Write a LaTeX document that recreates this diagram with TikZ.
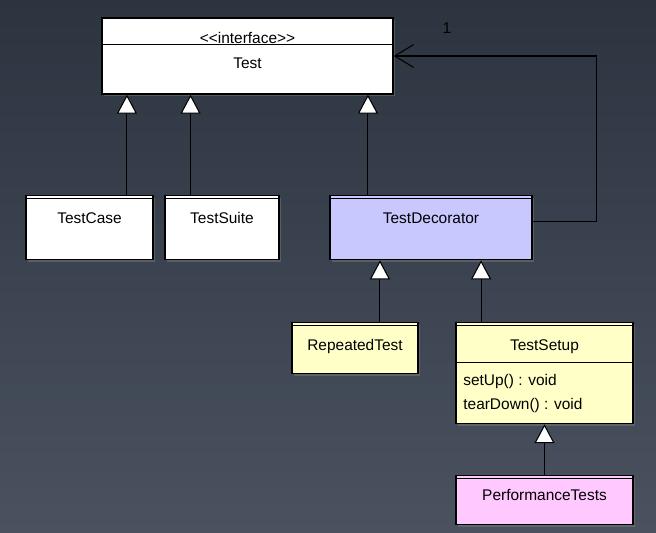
\documentclass[tikz,border=0pt]{standalone}
\usepackage{fontspec}
\setmainfont{Liberation Sans}
\usetikzlibrary{arrows.meta,shadows}
\definecolor{bgtop}{HTML}{2C3440}
\definecolor{bgbot}{HTML}{4A5260}
\definecolor{decofill}{HTML}{C8C8FF}
\definecolor{yellowfill}{HTML}{FFFFC8}
\definecolor{pinkfill}{HTML}{FFC8FF}
\tikzset{
	cls/.style={draw, line width=0.8pt, fill=white, anchor=north, inner xsep=0pt, inner ysep=0pt, text height=15.6pt,
		drop shadow={shadow xshift=1.4pt, shadow yshift=-1.4pt, opacity=0.45}},
	inh/.style={line width=0.6pt, -{Triangle[fill=white, length=10.8pt, width=11.4pt]}},
	assoc/.style={line width=0.6pt, -{Straight Barb[length=10.8pt, width=13pt]}},
}
\begin{document}
\begin{tikzpicture}[x=0.02cm, y=-0.02cm, font=\fontsize{8.8}{10.5}\selectfont]
		\shade[top color=bgtop, bottom color=bgbot] (0,0) rectangle (656,532);
%		interface
		\node[cls, anchor=center, minimum width=5.82cm, minimum height=1.52cm, text height=, text depth=] (test) at (247.5,56) {};
		\draw[line width=0.6pt] ([yshift=-15.4pt]test.north west) -- ([yshift=-15.4pt]test.north east);
		\node (stereo) at (247.5,37.5) {{<}{<}interface{>}{>}};
		\node (testname) at (247.5,63.5) {Test};
%		classes
		\node[cls, minimum width=2.54cm, text depth=20.8pt] (case) at (89.5,195) {TestCase};
		\node[cls, minimum width=2.28cm, text depth=20.8pt] (suite) at (222,195) {TestSuite};
		\node[cls, fill=decofill, minimum width=4.04cm, text depth=20.8pt] (deco) at (431,195) {TestDecorator};
		\node[cls, fill=yellowfill, minimum width=2.52cm, text depth=13.4pt] (rep) at (355,322) {RepeatedTest};
		\node[cls, fill=yellowfill, minimum width=3.54cm, text depth=41.8pt] (setup) at (544.5,322) {TestSetup};
		\draw[line width=0.6pt] ([yshift=-22.8pt]setup.north west) -- ([yshift=-22.8pt]setup.north east);
		\node[anchor=west, align=left, inner sep=0pt, font=\fontsize{8.8}{14.2}\selectfont] (ops) at (463,393.5) {setUp() : void\\tearDown() : void};
		\node[cls, fill=pinkfill, minimum width=3.54cm, text height=13.9pt, text depth=13.9pt] (perf) at (544.5,475) {PerformanceTests};
		\foreach \n in {case,suite,deco,rep,setup,perf}
			\draw[line width=0.5pt] ([yshift=-1.7pt]\n.north west) -- ([yshift=-1.7pt]\n.north east);
%		generalisations
		\draw[inh] ([xshift=21.3pt]case.north) coordinate (c1) -- (c1 |- test.south);
		\draw[inh] ([xshift=-17.9pt]suite.north) coordinate (c2) -- (c2 |- test.south);
		\draw[inh] ([xshift=-35.9pt]deco.north) coordinate (c3) -- (c3 |- test.south);
		\draw[inh] ([xshift=14.2pt]rep.north) coordinate (c4) -- (c4 |- deco.south);
		\draw[inh] ([xshift=-36.1pt]setup.north) coordinate (c5) -- (c5 |- deco.south);
		\draw[inh] (perf.north) -- (setup.south);
%		association
		\draw[assoc] ([yshift=3.4pt]deco.east) -- ++(64,0) |- (test.east);
		\node (mult) at (447,28) {1};
	\end{tikzpicture}
\end{document}
